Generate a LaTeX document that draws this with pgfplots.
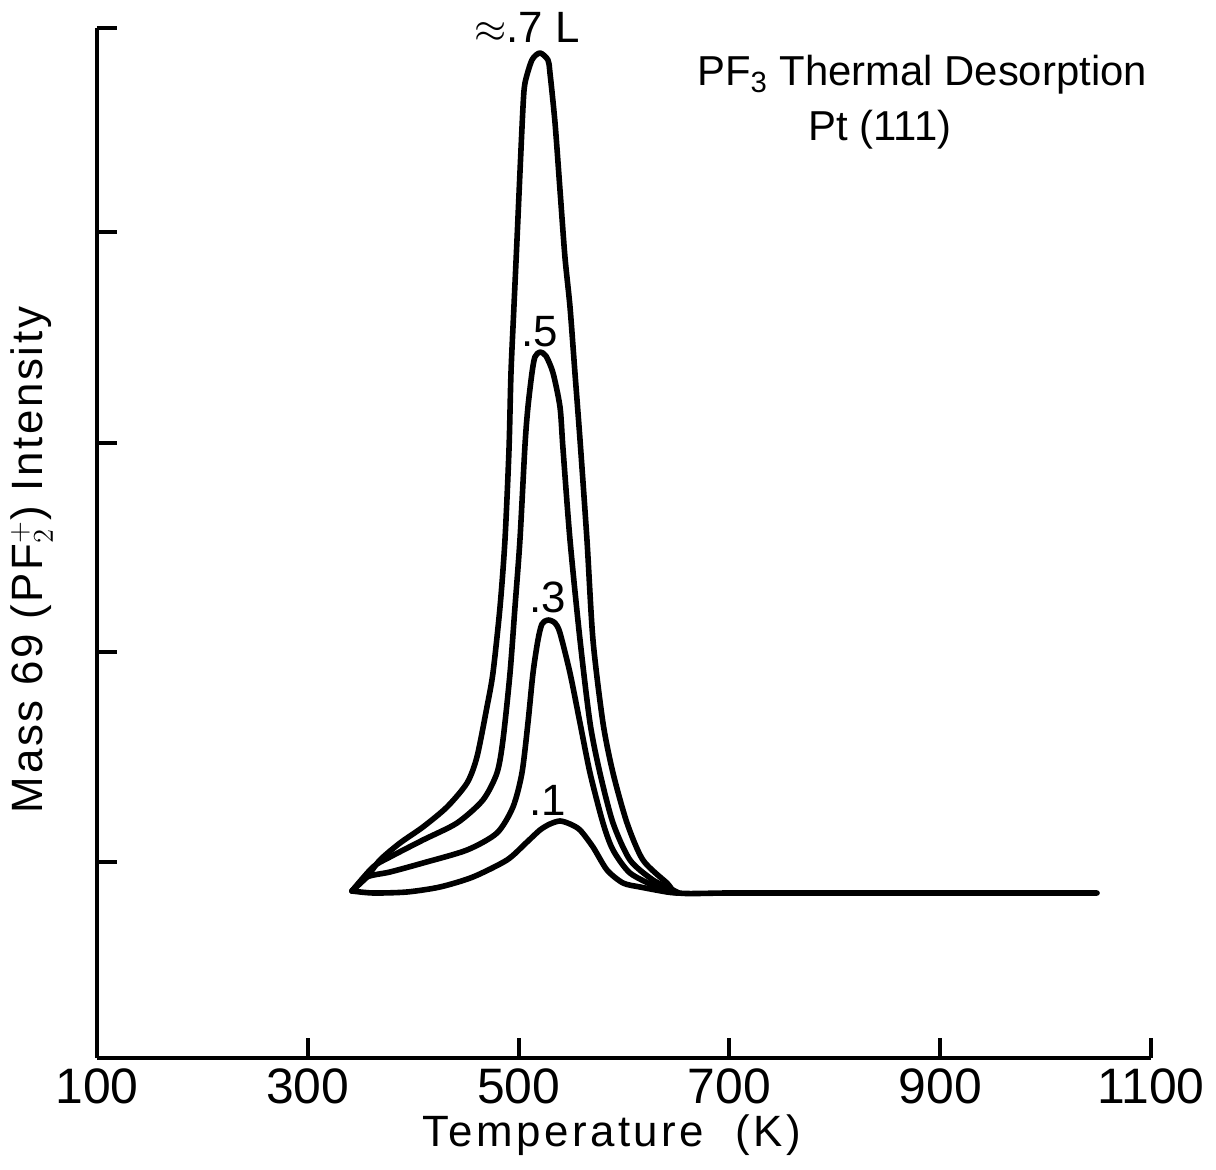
\documentclass[border=0pt]{standalone}
\usepackage{fontspec}
\setmainfont{Liberation Sans}
\usepackage{pgfplots}
\pgfplotsset{compat=1.18}
\begin{document}
\begin{tikzpicture}
\begin{axis}[
  scale only axis, width=527bp, height=515bp,
  xmin=100, xmax=1100, ymin=0, ymax=1030,
  axis x line=bottom, axis y line=left,
  axis line style={-, line width=2bp},
  xtick={100,300,500,700,900,1100},
  ytick={196,406,615,826,1030}, yticklabels={},
  tick align=inside, major tick length=10bp,
  every tick/.style={line width=2bp, black},
  /pgf/number format/assume math mode=true,
  /pgf/number format/1000 sep={},
  xticklabel style={font=\fontsize{25}{28}\selectfont, yshift=-2bp},
  clip=false,
  curve/.style={line width=2.8bp, black, no markers, smooth, tension=0.45, line join=round, line cap=round},
]
% 0.7 L
\addplot[curve] coordinates {
(341.9,167) (356,181) (368.5,198) (387.5,215) (409.3,231) (432.1,251) (451.1,275)
(460.5,301) (470,351) (475.7,385) (482.4,451) (487.1,518) (490.9,608) (492.8,685)
(495.6,751) (498.5,818) (501.3,885) (504.2,951) (506.1,975) (512.7,998) (520.3,1005)
(527.9,998) (529.8,985) (534.6,935) (539.3,868) (544,801) (548.8,751) (553.5,685)
(558.3,618) (564.9,518) (570.6,418) (580.1,335) (589.6,285) (602.9,235) (618,198)
(640.8,175) (652,165) (700,165) (800,165) (900,165) (1000,165) (1048.8,165)
};
% 0.5
\addplot[curve] coordinates {
(341.9,167) (361.9,191) (378,201) (409.3,218) (441.6,235) (466.2,258) (479.5,285)
(485.2,318) (491.9,385) (496.6,451) (501.3,518) (506.1,613) (508.9,651) (512.7,685)
(515.5,701) (520.3,706) (526,702) (532.7,685) (539.3,651) (542.1,610) (548.8,518)
(558.3,418) (567.8,335) (577.2,285) (589.6,235) (605.7,198) (627.5,178) (646.5,168) (652,165)
};
% 0.3
\addplot[curve] coordinates {
(341.9,167) (356.2,181) (378,186) (409.3,195) (451.1,208) (479.5,225) (494.7,251)
(503.2,285) (508.9,335) (513.7,385) (518.4,418) (522.2,434) (527.9,438) (534.6,435)
(539.3,425) (548.8,385) (558.3,335) (567.8,285) (580.1,235) (589.6,208) (605.7,185)
(631.3,171) (650.3,165)
};
% 0.1
\addplot[curve] coordinates {
(341.9,167) (361.9,165) (394.1,166) (425.4,171) (456.7,181) (489,198) (507,215)
(520.3,228) (529.8,234) (539.3,237) (548.8,234) (558.3,228) (570.6,211) (583.9,188)
(599.1,175) (615.2,171) (640.8,166) (650.3,165)
};
\node[font=\fontsize{22}{24}\selectfont] at (axis cs:508,1031) {$\approx$.7 L};
\node[font=\fontsize{22}{24}\selectfont] at (axis cs:520.3,726) {.5};
\node[font=\fontsize{22}{24}\selectfont] at (axis cs:527.9,461) {.3};
\node[font=\fontsize{22}{24}\selectfont] at (axis cs:527.9,258) {.1};
\node[font=\fontsize{21}{23}\selectfont] at (axis cs:882.8,983) {PF\textsubscript{3} Thermal Desorption};
\node[font=\fontsize{21}{23}\selectfont] at (axis cs:842.9,928) {Pt (111)};
\node[font=\fontsize{22}{24}\selectfont\addfontfeatures{LetterSpace=6}, rotate=90] at (axis cs:38.3,498) {Mass 69 (PF$_2^+$) Intensity};
\node[font=\fontsize{22}{24}\selectfont\addfontfeatures{LetterSpace=8}] at (axis cs:588.6,-77) {Temperature\ \ (K)};
\path (axis cs:8,-112) rectangle (axis cs:1161.7,1058);
\end{axis}
\end{tikzpicture}
\end{document}
